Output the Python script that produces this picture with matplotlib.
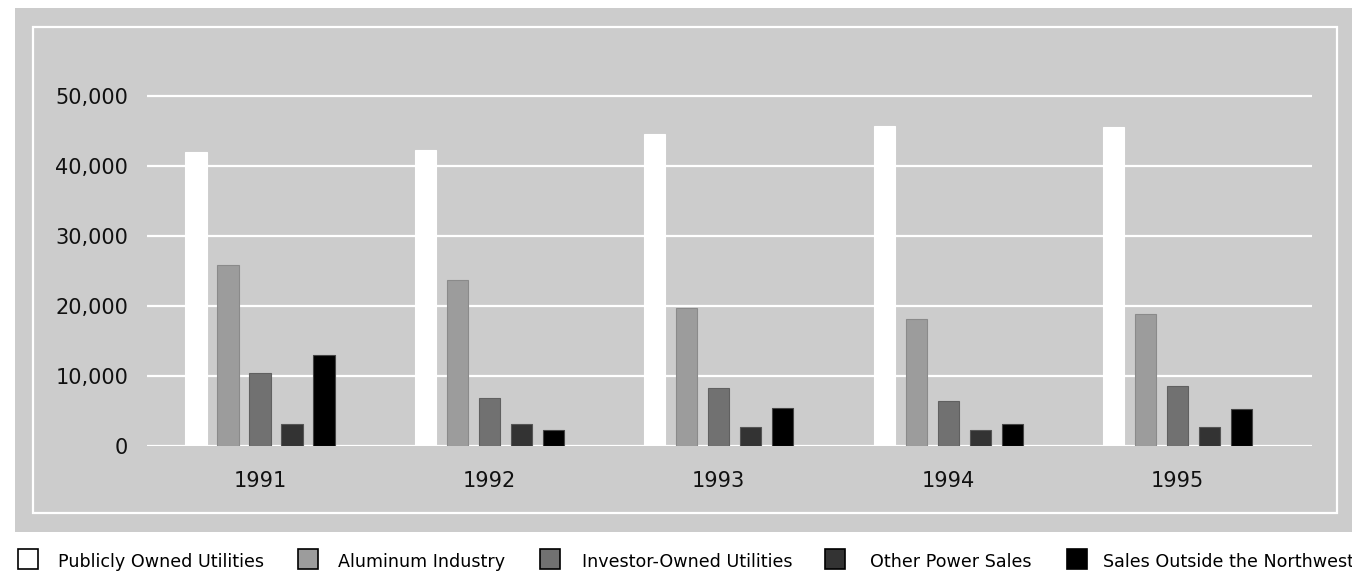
import matplotlib
matplotlib.use("Agg")
import matplotlib.pyplot as plt
from matplotlib.patches import Rectangle
import numpy as np

# Datos (megavatios promedio).
years = ["1991", "1992", "1993", "1994", "1995"]
series = ["Publicly Owned Utilities", "Aluminum Industry",
          "Investor-Owned Utilities", "Other Power Sales",
          "Sales Outside the Northwest"]
publicly_owned = [42000, 42300, 44600, 45700, 45600]
aluminum = [25850, 23700, 19700, 18100, 18850]
investor_owned = [10450, 6850, 8300, 6450, 8550]
other_sales = [3150, 3150, 2700, 2300, 2750]
outside_nw = [13000, 2300, 5400, 3150, 5300]
yticks = [0, 10000, 20000, 30000, 40000, 50000]

values = [publicly_owned, aluminum, investor_owned, other_sales, outside_nw]
colors = ["#ffffff", "#9c9c9c", "#717171", "#333333", "#000000"]
edges = ["#ffffff", "#8a8a8a", "#606060", "#555555", "#444444"]

W, H = 1352, 573
fig = plt.figure(figsize=(W / 100, H / 100), dpi=100)
fig.patch.set_facecolor("white")


def px(x, y, w, h):
    # convierte pixeles (origen arriba) a fraccion de figura
    return (x / W, 1 - (y + h) / H, w / W, h / H)


# Fondo gris y marco blanco interior.
x0, y0, w0, h0 = px(15, 8, 1337, 524)
fig.patches.append(Rectangle((x0, y0), w0, h0, transform=fig.transFigure,
                             facecolor="#cccccc", edgecolor="none", zorder=0))
x1, y1, w1, h1 = px(33, 27, 1304, 486)
fig.patches.append(Rectangle((x1, y1), w1, h1, transform=fig.transFigure,
                             facecolor="none", edgecolor="white", lw=1.6, zorder=1))

# Ejes: y=0 en pixel 446, 50,000 en pixel 96.
top_px = 446 - 55000 * 350 / 50000
ax = fig.add_axes(px(147, top_px, 1312 - 147, 446 - top_px))
ax.set_zorder(5)
ax.set_facecolor("none")
for s in ax.spines.values():
    s.set_visible(False)

x = np.arange(len(years))
pitch = 0.1395
width = 0.092
for i, (vals, c, e) in enumerate(zip(values, colors, edges)):
    ax.bar(x + (i - 2) * pitch, vals, width=width, color=c, edgecolor=e,
           linewidth=0.8, zorder=3, label=series[i])

ax.set_xlim(-0.4926, 4.586)
ax.set_ylim(0, 55000)
ax.set_yticks(yticks)
ax.set_yticklabels([f"{v:,}" for v in yticks])
ax.set_xticks(x)
ax.set_xticklabels(years)
ax.grid(axis="y", color="white", lw=1.6, zorder=1)
ax.set_axisbelow(True)
ax.tick_params(axis="y", length=0, pad=13.5, labelsize=15, labelcolor="#111111")
ax.tick_params(axis="x", length=0, pad=18, labelsize=15, labelcolor="#111111")

# Leyenda manual debajo del recuadro.
sq_x = [18, 298, 540, 825, 1067]
tx_x = [58, 338, 582, 870, 1103]
for i in range(len(series)):
    bx, by, bw, bh = px(sq_x[i], 549, 20, 20)
    fig.patches.append(Rectangle((bx, by), bw, bh, transform=fig.transFigure,
                                 facecolor=colors[i], edgecolor="black", lw=1.2))
    fig.text(tx_x[i] / W, 1 - 562 / H, series[i], fontsize=12.6,
             va="center", ha="left", color="black")

fig.savefig("out.png", dpi=100)
